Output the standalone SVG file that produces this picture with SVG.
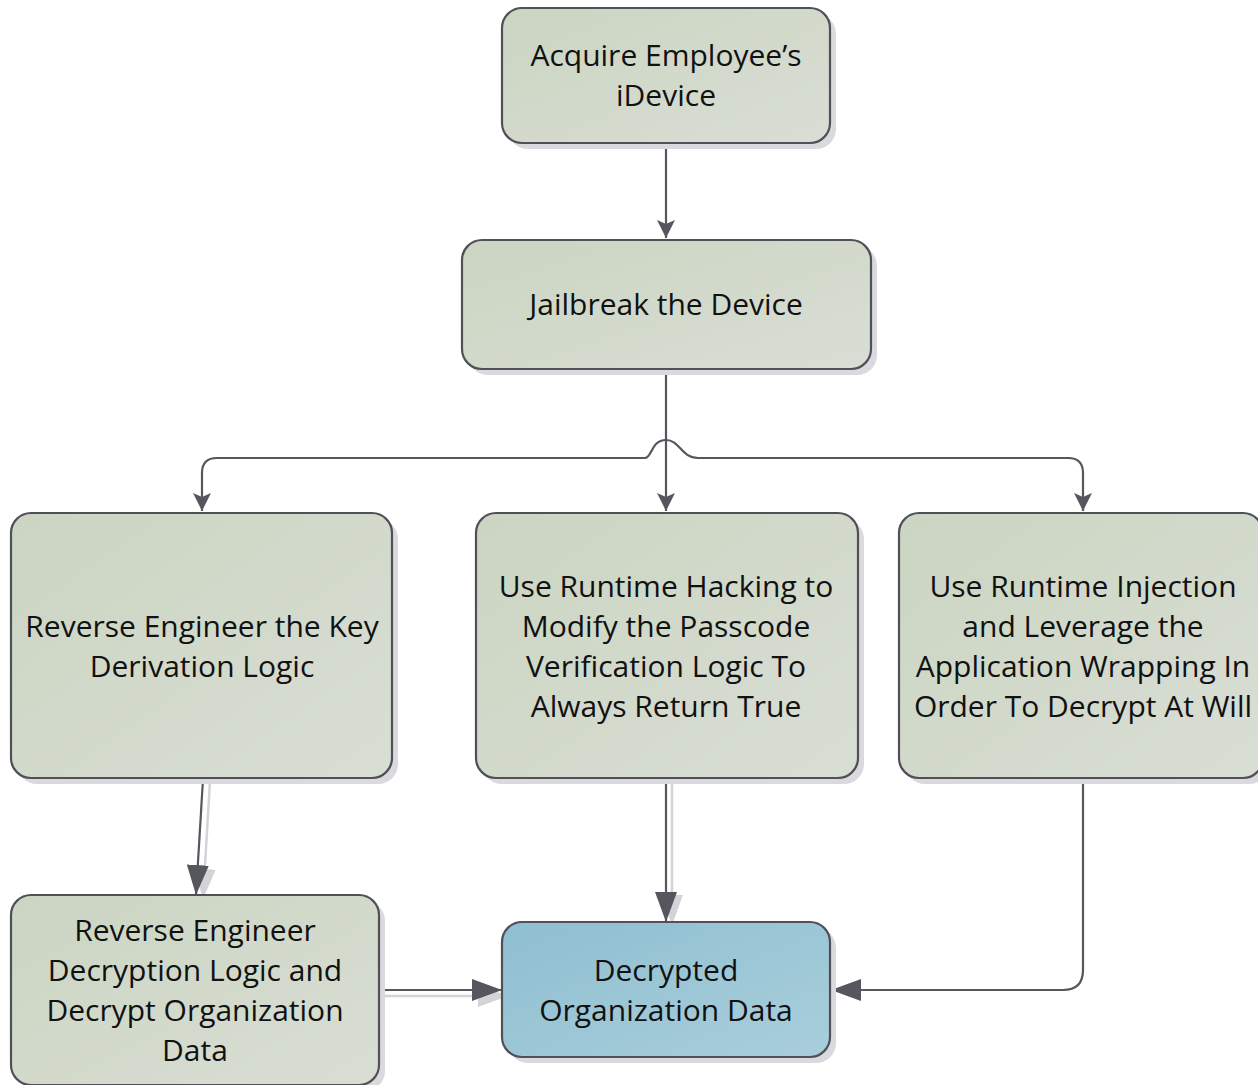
<svg xmlns="http://www.w3.org/2000/svg" width="1258" height="1085" viewBox="0 0 1258 1085">
  <style>
    .box { stroke: #505058; stroke-width: 2.2; }
    .green { fill: url(#gGreen); }
    .blue { fill: url(#gBlue); }
    .shadow { fill: #dadade; }
    .label { font-family: "Open Sans", "Liberation Sans", sans-serif; font-size: 30px; fill: #111; text-anchor: middle; }
    .wire { fill: none; stroke: #56565e; stroke-width: 2.2; }
    .wireShadow { fill: none; stroke: #d4d4d8; stroke-width: 2.5; }
  </style>
  <defs>
    <linearGradient id="gGreen" x1="0" y1="0" x2="1" y2="1">
      <stop offset="0" stop-color="#cbd5c1"/>
      <stop offset="1" stop-color="#d9ded5"/>
    </linearGradient>
    <linearGradient id="gBlue" x1="0" y1="0" x2="1" y2="1">
      <stop offset="0" stop-color="#8fbfd1"/>
      <stop offset="1" stop-color="#a9cedb"/>
    </linearGradient>
    <marker id="arrowSmall" viewBox="0 0 20 20" refX="18" refY="10" markerWidth="20" markerHeight="20" markerUnits="userSpaceOnUse" orient="auto">
      <path d="M0,1 L18,10 L0,19 L4,10 Z" fill="#56565e"/>
    </marker>
    <marker id="arrowBig" viewBox="0 0 30 24" refX="30" refY="12" markerWidth="30" markerHeight="24" markerUnits="userSpaceOnUse" orient="auto">
      <path d="M0,1 L30,12 L0,23 Z" fill="#56565e"/>
    </marker>
    <marker id="arrowBigShadow" viewBox="0 0 30 24" refX="30" refY="12" markerWidth="30" markerHeight="24" markerUnits="userSpaceOnUse" orient="auto">
      <path d="M0,1 L30,12 L0,23 Z" fill="#d4d4d8"/>
    </marker>
  </defs>

  <!-- connectors -->
  <g id="connectors">
    <!-- shadows of the heavy arrows -->
    <path class="wireShadow" d="M210,781 L203,899" marker-end="url(#arrowBigShadow)"/>
    <path class="wireShadow" d="M672,781 L672,925" marker-end="url(#arrowBigShadow)"/>
    <path class="wireShadow" d="M384,996 L508,996" marker-end="url(#arrowBigShadow)"/>

    <path class="wire" d="M666,144 L666,238" marker-end="url(#arrowSmall)"/>
    <path class="wire" d="M666,370 L666,511" marker-end="url(#arrowSmall)"/>
    <path class="wire" d="M645,458 L217,458 Q202,458 202,473 L202,511" marker-end="url(#arrowSmall)"/>
    <path class="wire" d="M645,458 C652,458 651,440 666,440 C680,440 681,458 698,458 L1068,458 Q1083,458 1083,473 L1083,511" marker-end="url(#arrowSmall)"/>

    <path class="wire" d="M203,779 L196,895" marker-end="url(#arrowBig)"/>
    <path class="wire" d="M666,779 L666,922" marker-end="url(#arrowBig)"/>
    <path class="wire" d="M380,990 L502,990" marker-end="url(#arrowBig)"/>
    <path class="wire" d="M1083,779 L1083,970 Q1083,990 1063,990 L831,990" marker-end="url(#arrowBig)"/>
  </g>

  <g id="node-acquire">
    <rect class="shadow" x="508" y="14" width="328" height="135" rx="20"/>
    <rect class="box green" x="502" y="8" width="328" height="135" rx="20"/>
    <text class="label" x="666" y="66">Acquire Employee’s</text>
    <text class="label" x="666" y="106">iDevice</text>
  </g>

  <g id="node-jailbreak">
    <rect class="shadow" x="468" y="246" width="409" height="129" rx="20"/>
    <rect class="box green" x="462" y="240" width="409" height="129" rx="20"/>
    <text class="label" x="666" y="315">Jailbreak the Device</text>
  </g>

  <g id="node-key-derivation">
    <rect class="shadow" x="17" y="519" width="381" height="265" rx="20"/>
    <rect class="box green" x="11" y="513" width="381" height="265" rx="20"/>
    <text class="label" x="202" y="637">Reverse Engineer the Key</text>
    <text class="label" x="202" y="677">Derivation Logic</text>
  </g>

  <g id="node-runtime-hacking">
    <rect class="shadow" x="482" y="519" width="382" height="265" rx="20"/>
    <rect class="box green" x="476" y="513" width="382" height="265" rx="20"/>
    <text class="label" x="666" y="597">Use Runtime Hacking to</text>
    <text class="label" x="666" y="637">Modify the Passcode</text>
    <text class="label" x="666" y="677">Verification Logic To</text>
    <text class="label" x="666" y="717">Always Return True</text>
  </g>

  <g id="node-runtime-injection">
    <rect class="shadow" x="905" y="519" width="364" height="265" rx="20"/>
    <rect class="box green" x="899" y="513" width="364" height="265" rx="20"/>
    <text class="label" x="1083" y="597">Use Runtime Injection</text>
    <text class="label" x="1083" y="637">and Leverage the</text>
    <text class="label" x="1083" y="677">Application Wrapping In</text>
    <text class="label" x="1083" y="717">Order To Decrypt At Will</text>
  </g>

  <g id="node-decryption-logic">
    <rect class="shadow" x="17" y="901" width="368" height="190" rx="20"/>
    <rect class="box green" x="11" y="895" width="368" height="190" rx="20"/>
    <text class="label" x="195" y="941">Reverse Engineer</text>
    <text class="label" x="195" y="981">Decryption Logic and</text>
    <text class="label" x="195" y="1021">Decrypt Organization</text>
    <text class="label" x="195" y="1061">Data</text>
  </g>

  <g id="node-decrypted-data">
    <rect class="shadow" x="508" y="928" width="328" height="135" rx="20"/>
    <rect class="box blue" x="502" y="922" width="328" height="135" rx="20"/>
    <text class="label" x="666" y="981">Decrypted</text>
    <text class="label" x="666" y="1021">Organization Data</text>
  </g>
</svg>
